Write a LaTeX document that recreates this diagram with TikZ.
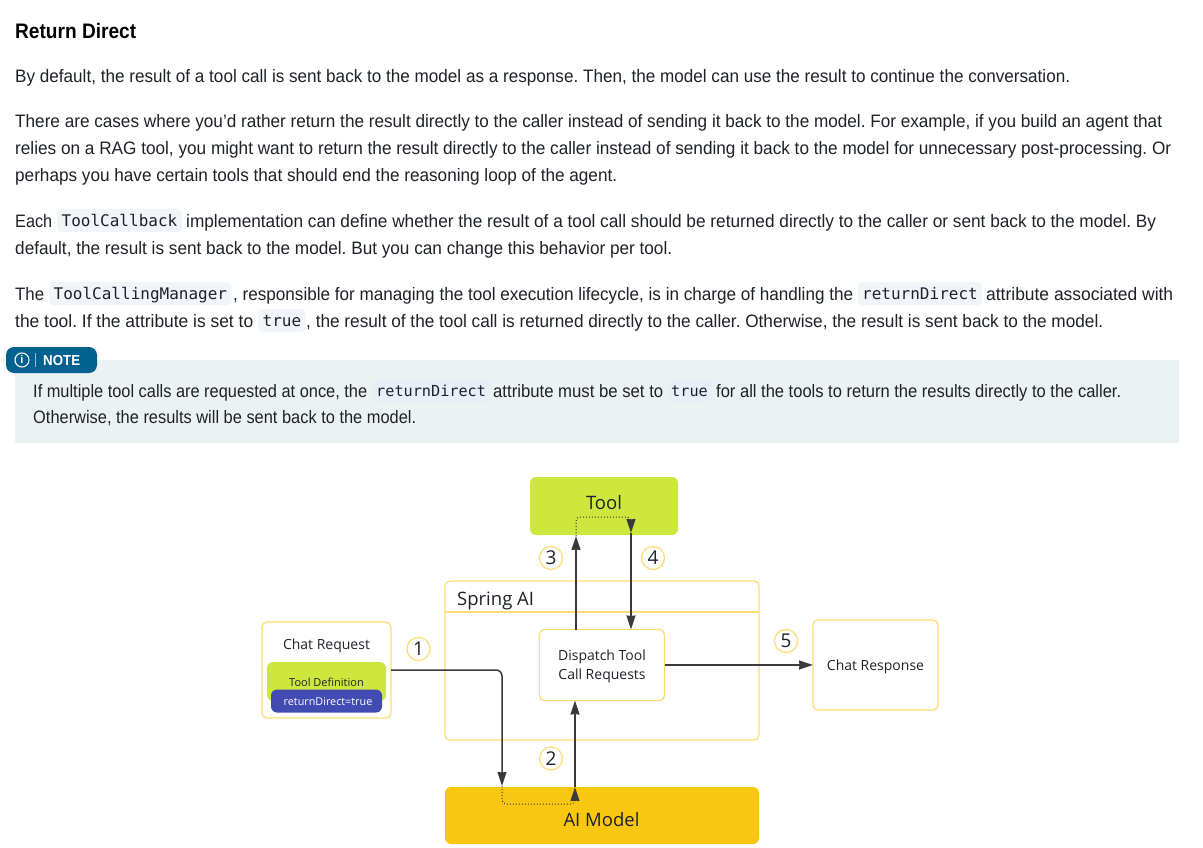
\documentclass[tikz,border=0pt]{standalone}
\usepackage{fontspec}
\usepackage{graphicx}
\usepackage{xcolor}
\setmainfont{Liberation Sans}
\setmonofont{DejaVu Sans Mono}
\newfontfamily\diag{Open Sans}
\usetikzlibrary{arrows.meta}
\definecolor{ink}{HTML}{1E2228}
\definecolor{codebg}{HTML}{F1F5F9}
\definecolor{notecode}{HTML}{E8EFF7}
\definecolor{notebg}{HTML}{ECF1F1}
\definecolor{badge}{HTML}{00608F}
\definecolor{lime}{HTML}{CEE73E}
\definecolor{amber}{HTML}{FAC710}
\definecolor{border}{HTML}{FFDC73}
\definecolor{indigo}{HTML}{414BB2}
\definecolor{wire}{HTML}{3A3A3A}
\newcommand{\fit}[2]{\resizebox{#1pt}{\height}{#2}}
\frenchspacing
\tikzset{
  prose/.style={anchor=base west,inner sep=0pt,text=ink,font=\fontsize{18}{20}\selectfont\frenchspacing},
  head/.style={anchor=base west,inner sep=0pt,text=black,font=\fontsize{21}{24}\selectfont\bfseries},
  codechip/.style={anchor=base west,fill=codebg,rounded corners=4pt,inner xsep=4.5pt,inner ysep=0pt,
    text height=17pt,text depth=6pt,text=ink,font=\fontsize{16}{20}\selectfont\ttfamily},
  notechip/.style={codechip,fill=notecode,font=\fontsize{15.2}{20}\selectfont\ttfamily},
  whitebox/.style={draw=border,line width=1.3pt,outer sep=0pt,fill=white,rounded corners=5pt,anchor=north west,inner sep=0pt,text=ink},
  solidbox/.style={rounded corners=6pt,outer sep=0pt,anchor=north west,inner sep=0pt,text=ink},
  boxlabel/.style={anchor=center,inner sep=0pt,text=ink,align=center},
  stepnum/.style={circle,draw=border,line width=1.2pt,fill=white,minimum size=23pt,inner sep=0pt,text=ink,font=\diag\fontsize{19}{20}\selectfont},
  wireline/.style={draw=wire,line width=1.5pt},
  dotline/.style={draw=wire,line width=1pt,dotted,rounded corners=4pt},
  tip/.style={-{Stealth[length=14pt,width=9pt,inset=.5pt]}},
}
\begin{document}
\begin{tikzpicture}[x=1pt,y=-1pt]
\useasboundingbox (0,0) rectangle (1203,848);
\fill[white] (0,0) rectangle (1203,848);

\node[head] (title) at (15,39) {\fit{121}{Return Direct}};
\node[prose] (p1) at (15,83) {\fit{1055}{By default, the result of a tool call is sent back to the model as a response. Then, the model can use the result to continue the conversation.}};
\node[prose] (p2a) at (15,128) {\fit{1147}{There are cases where you’d rather return the result directly to the caller instead of sending it back to the model. For example, if you build an agent that}};
\node[prose] (p2b) at (15,155) {\fit{1156}{relies on a RAG tool, you might want to return the result directly to the caller instead of sending it back to the model for unnecessary post-processing. Or}};
\node[prose] (p2c) at (15,182) {\fit{602}{perhaps you have certain tools that should end the reasoning loop of the agent.}};

\node[prose] (p3a) at (15,227) {\fit{37}{Each}};
\node[codechip] (c1) at (57,226) {ToolCallback};
\node[prose] (p3b) at (186,227) {\fit{970}{implementation can define whether the result of a tool call should be returned directly to the caller or sent back to the model. By}};
\node[prose] (p3c) at (15,254) {\fit{657}{default, the result is sent back to the model. But you can change this behavior per tool.}};

\node[prose] (p4a) at (15,300) {\fit{29}{The}};
\node[codechip] (c2) at (49,299) {ToolCallingManager};
\node[prose] (p4b) at (233,300) {\fit{620}{, responsible for managing the tool execution lifecycle, is in charge of handling the}};
\node[codechip] (c3) at (857.5,299) {returnDirect};
\node[prose] (p4c) at (986,300) {\fit{187}{attribute associated with}};
\node[prose] (p5a) at (15,327) {\fit{238}{the tool. If the attribute is set to}};
\node[codechip] (c4) at (258,326) {true};
\node[prose] (p5b) at (306,327) {\fit{797}{, the result of the tool call is returned directly to the caller. Otherwise, the result is sent back to the model.}};

\fill[notebg] (15,360) rectangle (1179,443);
\fill[badge,rounded corners=8pt] (6,347) rectangle (97,373);
\node[circle,draw=white,line width=1.1pt,minimum size=14pt,inner sep=0pt,text=white,font=\fontsize{11}{12}\selectfont\bfseries] (icon) at (22,360) {i};
\draw[white!60!badge,line width=.7pt] (35.5,353) -- (35.5,367);
\node[anchor=base west,inner sep=0pt,text=white,font=\fontsize{14.5}{16}\selectfont\bfseries] (notelabel) at (43,365.5) {\fit{37}{NOTE}};

\node[prose] (n1a) at (33,397) {\fit{334}{If multiple tool calls are requested at once, the}};
\node[notechip] (c5) at (371.5,396) {returnDirect};
\node[prose] (n1b) at (493,397) {\fit{170}{attribute must be set to}};
\node[notechip] (c6) at (666.5,396) {true};
\node[prose] (n1c) at (716,397) {\fit{405}{for all the tools to return the results directly to the caller.}};
\node[prose] (n2) at (33,423) {\fit{383}{Otherwise, the results will be sent back to the model.}};

% diagram
\node[solidbox,fill=lime,minimum width=148pt,minimum height=58pt] (tool) at (530,477) {};
\node[boxlabel,font=\diag\fontsize{18.5}{20}\selectfont] (toollabel) at (604,503) {Tool};
\node[solidbox,fill=amber,minimum width=314pt,minimum height=57pt] (aimodel) at (445,787) {};
\node[boxlabel,font=\diag\fontsize{18.5}{20}\selectfont] (ailabel) at (601.5,819.5) {AI Model};
\node[whitebox,minimum width=314pt,minimum height=159pt] (spring) at (445,581) {};
\draw[border,line width=1.3pt] (spring.west |- 0,612) coordinate (sl) -- (spring.east |- sl);
\node[anchor=base west,inner sep=0pt,text=ink,font=\diag\fontsize{18.5}{20}\selectfont] (springlabel) at (457,605) {Spring AI};
\node[whitebox,minimum width=125pt,minimum height=71pt] (dispatch) at (539.5,629.5) {};
\node[boxlabel,font=\diag\fontsize{14}{19}\selectfont] (dispatchlabel) at (602,666.5) {Dispatch Tool\\Call Requests};
\node[whitebox,minimum width=129pt,minimum height=96pt] (creq) at (262,622) {};
\node[boxlabel,font=\diag\fontsize{14}{16}\selectfont] (creqlabel) at (326.5,646) {Chat Request};
\node[solidbox,fill=lime,minimum width=119pt,minimum height=39pt] (tooldef) at (267,662) {};
\node[boxlabel,font=\diag\fontsize{11}{13}\selectfont] (tooldeflabel) at (326.5,682) {Tool Definition};
\node[solidbox,fill=indigo,minimum width=111pt,minimum height=23pt] (retdir) at (271,689.5) {};
\node[boxlabel,text=white,font=\diag\fontsize{10.8}{13}\selectfont] (retdirlabel) at (328,701.5) {returnDirect=true};
\node[whitebox,minimum width=125pt,minimum height=90pt] (cresp) at (813,620) {};
\node[boxlabel,font=\diag\fontsize{14}{16}\selectfont] (cresplabel) at (875.5,666.5) {Chat Response};

\coordinate (a1) at (502,786);
\coordinate (m2) at (575,787);
\coordinate (t3) at (576,536);
\coordinate (t4) at (631,533);
\draw[wireline,tip,rounded corners=6pt] (creq.east) -- (a1 |- creq.east) -- (a1);
\draw[dotline] (a1) -- (502,804) -- (575,804) -- (575,800);
\draw[wireline,tip] (575,801) -- (m2);
\draw[wireline,tip] (m2) -- (m2 |- dispatch.south);
\draw[wireline,tip] (t3 |- dispatch.north) -- (t3);
\draw[dotline] (t3) -- (576,517) -- (631,517) -- (631,522);
\draw[wireline,tip] (631,520) -- (t4);
\draw[wireline,tip] (t4) -- (t4 |- dispatch.north);
\draw[wireline,tip] (dispatch.east) -- (cresp.west);

\node[stepnum] (s1) at (418.5,649) {1};
\node[stepnum] (s2) at (551,758.5) {2};
\node[stepnum] (s3) at (551,558) {3};
\node[stepnum] (s4) at (653,558) {4};
\node[stepnum] (s5) at (786,641) {5};
\end{tikzpicture}
\end{document}
